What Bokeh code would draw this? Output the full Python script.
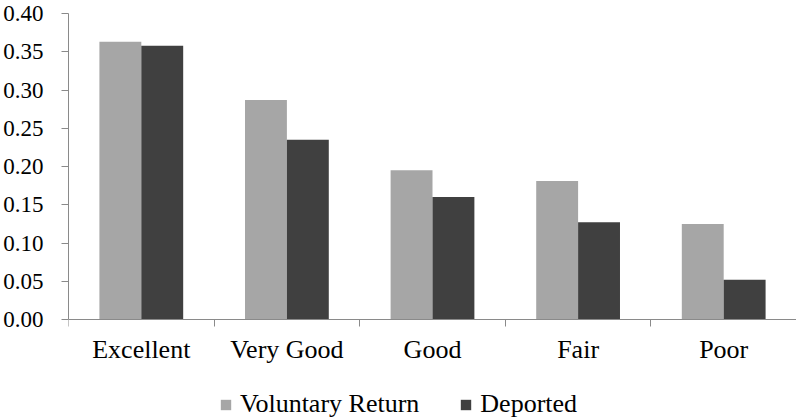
import numpy as np
from bokeh.plotting import figure
from bokeh.models import (Range1d, LinearAxis, FixedTicker, NumeralTickFormatter, Legend,
                          LegendItem, ColumnDataSource)
from bokeh.embed import file_html
from bokeh.resources import INLINE

categories = ["Excellent", "Very Good", "Good", "Fair", "Poor"]
voluntary_return = [0.363, 0.287, 0.195, 0.181, 0.125]
deported = [0.358, 0.235, 0.160, 0.127, 0.052]
series_names = ["Voluntary Return", "Deported"]
y_ticks = [0.00, 0.05, 0.10, 0.15, 0.20, 0.25, 0.30, 0.35, 0.40]

FONT = "Liberation Serif"
AXIS_COLOR = "#8a8a8a"
VR_COLOR = "#a6a6a6"
DEP_COLOR = "#404040"

n = len(categories)
centers = np.arange(n) + 0.5
edges = list(range(n + 1))
bw = 0.2877

W, H = 796, 418
TOP, LEFT = 13, 66
ZERO_PX = 319               # pixel row of value 0
y_max = 0.40
y_min = -y_max * (H - ZERO_PX) / (ZERO_PX - TOP)

src = ColumnDataSource(dict(xvr=centers - bw / 2, xdep=centers + bw / 2,
                            vr=voluntary_return, dep=deported))

p = figure(width=W, height=H,
           x_range=Range1d(0, n), y_range=Range1d(y_min, y_max),
           output_backend="svg", toolbar_location=None,
           x_axis_location=None, y_axis_location="left",
           min_border_left=LEFT, min_border_right=0, min_border_top=TOP,
           min_border_bottom=0)
p.grid.visible = False
p.outline_line_color = None
p.background_fill_color = "white"

r1 = p.vbar(x="xvr", top="vr", width=bw, source=src, fill_color=VR_COLOR, line_color=None)
r2 = p.vbar(x="xdep", top="dep", width=bw, source=src, fill_color=DEP_COLOR, line_color=None)

yax = p.yaxis[0]
yax.ticker = FixedTicker(ticks=y_ticks)
yax.bounds = (0, y_max)
yax.formatter = NumeralTickFormatter(format="0.00")
yax.major_label_text_font = FONT
yax.major_label_text_font_size = "23px"
yax.major_label_text_color = "black"
yax.major_tick_out = 7
yax.major_tick_in = 0
yax.minor_tick_line_color = None
yax.axis_line_color = AXIS_COLOR
yax.major_tick_line_color = AXIS_COLOR
yax.major_label_standoff = 18

edge_axis = LinearAxis(ticker=FixedTicker(ticks=edges), fixed_location=0,
                       major_label_text_font_size="1px", major_label_text_alpha=0,
                       major_tick_out=7, major_tick_in=0, minor_tick_line_color=None,
                       axis_line_color=AXIS_COLOR, major_tick_line_color=AXIS_COLOR,
                       major_label_standoff=0)
p.add_layout(edge_axis, "below")

cat_axis = LinearAxis(ticker=FixedTicker(ticks=list(centers)), fixed_location=0,
                      major_label_overrides={float(c): name for c, name in zip(centers, categories)},
                      axis_line_color=None, major_tick_line_color=None,
                      major_tick_out=0, major_tick_in=0,
                      minor_tick_line_color=None, major_label_text_font=FONT,
                      major_label_text_font_size="26px", major_label_text_color="black",
                      major_label_standoff=15)
p.add_layout(cat_axis, "below")

legend = Legend(items=[LegendItem(label=series_names[0], renderers=[r1]),
                       LegendItem(label=series_names[1], renderers=[r2])],
                orientation="horizontal", location=(151, -1),
                border_line_color=None, background_fill_alpha=0,
                padding=0, margin=0, spacing=40, label_standoff=8,
                glyph_width=13, glyph_height=13,
                label_text_font=FONT, label_text_font_size="26px",
                label_text_color="black")
p.add_layout(legend, "center")

open("out.html", "w").write(file_html(p, INLINE))
